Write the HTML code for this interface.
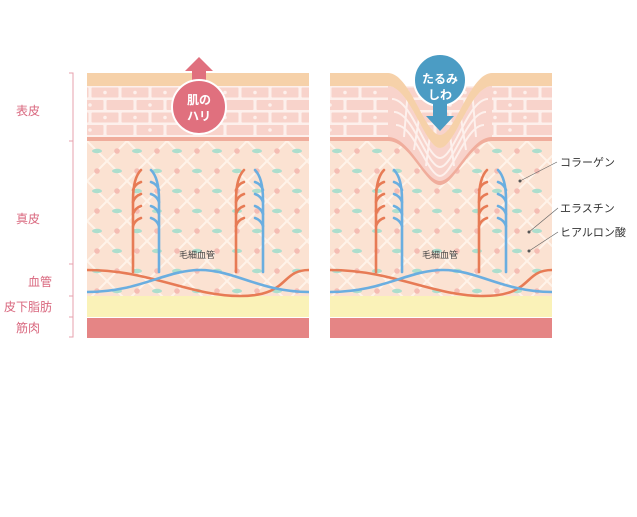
<!DOCTYPE html>
<html><head><meta charset="utf-8"><style>
html,body{margin:0;padding:0;background:#fff;width:637px;height:517px;overflow:hidden}
svg{display:block}
text{font-family:"Liberation Sans","Noto Sans CJK JP",sans-serif}
</style></head><body>
<svg width="637" height="517" viewBox="0 0 637 517" xmlns="http://www.w3.org/2000/svg">
<defs>
<pattern id="brick" x="0" y="86" width="60" height="25" patternUnits="userSpaceOnUse">
<rect width="60" height="25" fill="#fdf0ec"/>
<rect x="1.5" y="1.5" width="27" height="10" rx="1" fill="#f8d3cb"/>
<rect x="31.5" y="1.5" width="27" height="10" rx="1" fill="#f8d3cb"/>
<rect x="-13.5" y="14" width="27" height="10" rx="1" fill="#f8d3cb"/>
<rect x="16.5" y="14" width="27" height="10" rx="1" fill="#f8d3cb"/>
<rect x="46.5" y="14" width="27" height="10" rx="1" fill="#f8d3cb"/>
<circle cx="15" cy="6.5" r="1.8" fill="#fdf0ec"/><circle cx="45" cy="6.5" r="1.8" fill="#fdf0ec"/>
<circle cx="30" cy="19" r="1.8" fill="#fdf0ec"/>
</pattern>
<pattern id="derm" x="87" y="141" width="40" height="40" patternUnits="userSpaceOnUse">
<rect width="40" height="40" fill="#fbe2d2"/>
<path d="M0 0L40 40M40 0L0 40" stroke="#fff6ee" stroke-width="2" opacity=".85"/>
<ellipse cx="10" cy="10" rx="5" ry="2.2" fill="#addecd"/>
<circle cx="30" cy="10" r="2.8" fill="#f5bdb4"/>
<circle cx="10" cy="30" r="2.8" fill="#f5bdb4"/>
<ellipse cx="30" cy="30" rx="5" ry="2.2" fill="#addecd"/>
</pattern>
<clipPath id="cl"><rect x="87" y="73" width="222" height="265"/></clipPath>
<clipPath id="cr"><rect x="330" y="73" width="222" height="265"/></clipPath>
</defs>

<g fill="#d9677e" font-size="12">
<text x="16" y="115">表皮</text>
<text x="16" y="223">真皮</text>
<text x="28" y="286">血管</text>
<text x="4" y="311">皮下脂肪</text>
<text x="16" y="332">筋肉</text>
</g>
<g stroke="#e7a0ad" stroke-width="1" fill="none">
<path d="M69 73H73V141H69M73 141V264H69M73 264V296H69M73 296V317H69M73 317V337H69"/>
</g>

<!-- LEFT PANEL -->
<g clip-path="url(#cl)">
<rect x="87" y="141" width="222" height="160" fill="url(#derm)"/>
<rect x="87" y="86" width="222" height="51" fill="url(#brick)"/>
<rect x="87" y="73" width="222" height="13" fill="#f6d1a9"/>
<rect x="87" y="137" width="222" height="4" fill="#f0ad9c"/>
<rect x="87" y="296" width="222" height="21" fill="#faf2b8"/>
<rect x="87" y="318" width="222" height="20" fill="#e58585"/>
<g fill="none" stroke-width="2.6" stroke-linecap="round">
<path d="M87 270C150 270 190 296 240 296S280 270 309 270" stroke="#e77b55"/>
<path d="M87 292C140 292 165 270 200 270S260 292 309 292" stroke="#6aaee0"/>
<g stroke="#e77b55"><path d="M133 272V200Q133 178 141 170"/><path d="M133 190Q135 184 141 182M133 202Q135 196 141 194M133 214Q135 208 141 206M133 226Q135 220 141 218"/></g>
<g stroke="#6aaee0"><path d="M159 272V200Q159 178 151 170"/><path d="M159 190Q157 184 151 182M159 202Q157 196 151 194M159 214Q157 208 151 206M159 226Q157 220 151 218"/></g>
<g stroke="#e77b55"><path d="M236 272V200Q236 178 244 170"/><path d="M236 190Q238 184 244 182M236 202Q238 196 244 194M236 214Q238 208 244 206M236 226Q238 220 244 218"/></g>
<g stroke="#6aaee0"><path d="M263 272V200Q263 178 255 170"/><path d="M263 190Q261 184 255 182M263 202Q261 196 255 194M263 214Q261 208 255 206M263 226Q261 220 255 218"/></g>
</g>
</g>
<text x="179" y="258" font-size="9" fill="#444">毛細血管</text>
<path d="M199 57L213 71H206V82H192V71H185Z" fill="#e0707e"/>
<circle cx="199" cy="107" r="27" fill="#e0707e" stroke="#fff" stroke-width="2"/>
<text x="199" y="104" font-size="12" fill="#fff" text-anchor="middle" font-weight="bold">肌の</text>
<text x="199" y="120" font-size="12" fill="#fff" text-anchor="middle" font-weight="bold">ハリ</text>

<!-- RIGHT PANEL -->
<g clip-path="url(#cr)">
<rect x="330" y="141" width="222" height="160" fill="url(#derm)"/>
<rect x="330" y="86" width="222" height="51" fill="url(#brick)"/>
<!-- sunken epidermis -->
<path d="M388 86C410 86 425 148 440 148C455 148 470 86 492 86V141C470 141 455 185 440 185C425 185 410 141 388 141Z" fill="#f8d3cb"/>
<g fill="none" stroke="#fdf0ec" stroke-width="2">
<path d="M392 99C412 99 426 158 440 158C454 158 468 99 488 99"/>
<path d="M394 112C413 112 427 167 440 167C453 167 467 112 486 112"/>
<path d="M396 125C414 125 428 176 440 176C452 176 466 125 484 125"/>
<path d="M408 90L404 137M420 112L414 150M430 135L426 166M450 135L454 166M460 112L466 150M472 90L476 137"/>
</g>
<path d="M330 73H388C410 73 425 135 440 135C455 135 470 73 492 73H552V86H492C470 86 455 148 440 148C425 148 410 86 388 86H330Z" fill="#f6d1a9"/>
<path d="M330 137H388C410 137 425 181 440 181C455 181 470 137 492 137H552V141H492C470 141 455 185 440 185C425 185 410 141 388 141H330Z" fill="#f0ad9c"/>
<rect x="330" y="296" width="222" height="21" fill="#faf2b8"/>
<rect x="330" y="318" width="222" height="20" fill="#e58585"/>
<g fill="none" stroke-width="2.6" stroke-linecap="round">
<path d="M330 270C393 270 433 296 483 296S523 270 552 270" stroke="#e77b55"/>
<path d="M330 292C383 292 408 270 443 270S503 292 552 292" stroke="#6aaee0"/>
<g stroke="#e77b55"><path d="M376 272V200Q376 178 384 170"/><path d="M376 190Q378 184 384 182M376 202Q378 196 384 194M376 214Q378 208 384 206M376 226Q378 220 384 218"/></g>
<g stroke="#6aaee0"><path d="M402 272V200Q402 178 394 170"/><path d="M402 190Q400 184 394 182M402 202Q400 196 394 194M402 214Q400 208 394 206M402 226Q400 220 394 218"/></g>
<g stroke="#e77b55"><path d="M479 272V200Q479 178 487 170"/><path d="M479 190Q481 184 487 182M479 202Q481 196 487 194M479 214Q481 208 487 206M479 226Q481 220 487 218"/></g>
<g stroke="#6aaee0"><path d="M506 272V200Q506 178 498 170"/><path d="M506 190Q504 184 498 182M506 202Q504 196 498 194M506 214Q504 208 498 206M506 226Q504 220 498 218"/></g>
</g>
</g>
<text x="422" y="258" font-size="9" fill="#444">毛細血管</text>
<circle cx="440" cy="80" r="26" fill="#4b9cc4" stroke="#fff" stroke-width="2"/>
<path d="M433 100V116H426L440 131L454 116H447V100Z" fill="#4b9cc4"/>
<text x="440" y="83" font-size="12" fill="#fff" text-anchor="middle" font-weight="bold">たるみ</text>
<text x="440" y="99" font-size="12" fill="#fff" text-anchor="middle" font-weight="bold">しわ</text>

<g fill="#333" font-size="11">
<text x="560" y="166">コラーゲン</text>
<text x="560" y="212">エラスチン</text>
<text x="560" y="236">ヒアルロン酸</text>
</g>
<g stroke="#666" stroke-width=".7" fill="none">
<path d="M520 181L557 162M529 232L558 208M529 251L558 232"/>
</g>
<g fill="#555"><circle cx="520" cy="181" r="1.5"/><circle cx="529" cy="232" r="1.5"/><circle cx="529" cy="251" r="1.5"/></g>
</svg>
</body></html>
